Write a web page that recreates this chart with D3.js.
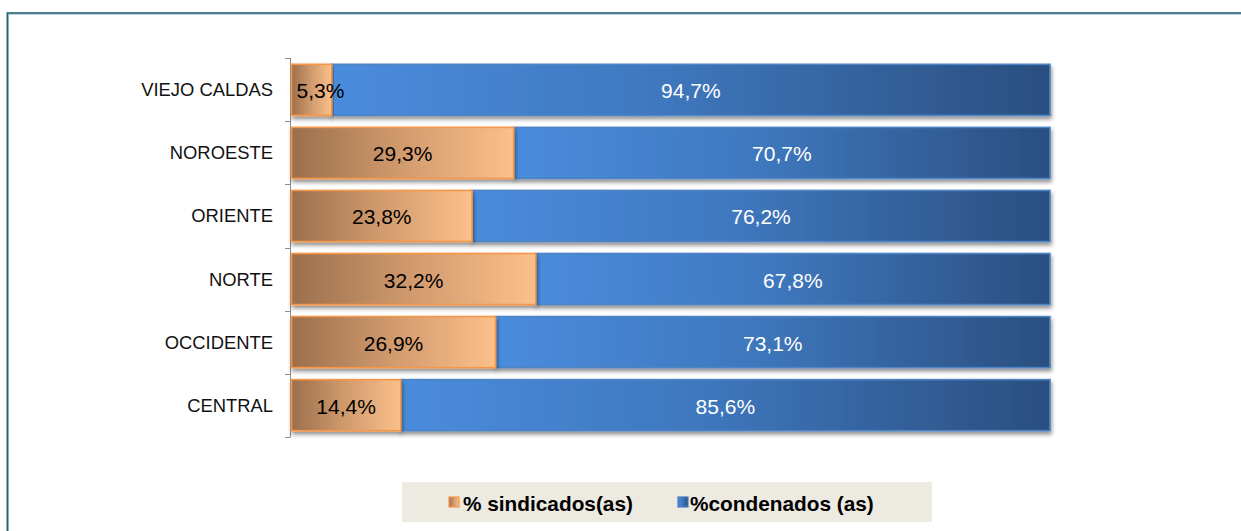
<!DOCTYPE html>
<html>
<head>
<meta charset="utf-8">
<script src="https://cdn.jsdelivr.net/npm/d3@7"></script>
<style>
  html, body { margin: 0; padding: 0; background: #fff; }
  svg { display: block; font-family: "Liberation Sans", Arial, sans-serif; }
</style>
</head>
<body>
<svg id="chart" width="1241" height="531"></svg>
<script>
// Regions, top to bottom
const categories = ["VIEJO CALDAS", "NOROESTE", "ORIENTE", "NORTE", "OCCIDENTE", "CENTRAL"];
// Share of processed people (%)
const sindicados = [5.3, 29.3, 23.8, 32.2, 26.9, 14.4];
const condenados = [94.7, 70.7, 76.2, 67.8, 73.1, 85.6];
const seriesNames = ["% sindicados(as)", "%condenados (as)"];

const svg = d3.select("#chart");
const W = 1241, H = 531;

const defs = svg.append("defs");
const gOr = defs.append("linearGradient").attr("id", "gradOrange").attr("x1", 0).attr("x2", 1).attr("y1", 0).attr("y2", 0);
gOr.append("stop").attr("offset", "0%").attr("stop-color", "#9b6f4c");
gOr.append("stop").attr("offset", "50%").attr("stop-color", "#d29b6e");
gOr.append("stop").attr("offset", "100%").attr("stop-color", "#fbc08b");
const gBl = defs.append("linearGradient").attr("id", "gradBlue").attr("x1", 0).attr("x2", 1).attr("y1", 0).attr("y2", 0);
gBl.append("stop").attr("offset", "0%").attr("stop-color", "#4a8cdc");
gBl.append("stop").attr("offset", "45%").attr("stop-color", "#3f78bf");
gBl.append("stop").attr("offset", "100%").attr("stop-color", "#2a4f7f");
const shadow = defs.append("filter").attr("id", "shadow").attr("x", "-5%").attr("y", "-20%").attr("width", "110%").attr("height", "160%");
shadow.append("feGaussianBlur").attr("in", "SourceAlpha").attr("stdDeviation", 2.2);
shadow.append("feOffset").attr("dx", 1).attr("dy", 3).attr("result", "b");
shadow.append("feComponentTransfer").append("feFuncA").attr("type", "linear").attr("slope", 0.45);
const merge = shadow.append("feMerge");
merge.append("feMergeNode");
merge.append("feMergeNode").attr("in", "SourceGraphic");

// Outer frame (top and left edges)
svg.append("path")
  .attr("d", `M7.5,${H} L7.5,13.5 L${W},13.5`)
  .attr("fill", "none").attr("stroke", "#b9d3de").attr("stroke-width", 3);
svg.append("path")
  .attr("d", `M7.5,${H} L7.5,13 L${W},13`)
  .attr("fill", "none").attr("stroke", "#2d6173").attr("stroke-width", 1.6);

const x = d3.scaleLinear().domain([0, 100]).range([291.5, 1050]);
const y = d3.scaleBand().domain(categories).range([58, 437]).paddingInner(0.19).paddingOuter(0.1);

// Category axis
const axis = svg.append("g").attr("transform", "translate(290,0)");
axis.append("line").attr("x1", 0.5).attr("x2", 0.5).attr("y1", 58).attr("y2", 437).attr("stroke", "#8c8c8c").attr("stroke-width", 1);
const bounds = d3.range(categories.length + 1).map(i => 58 + i * (437 - 58) / categories.length);
axis.selectAll("line.tick").data(bounds).join("line").attr("class", "tick")
  .attr("x1", -5).attr("x2", 0.5).attr("y1", d => Math.round(d) + 0.5).attr("y2", d => Math.round(d) + 0.5)
  .attr("stroke", "#8c8c8c");
svg.selectAll("text.cat").data(categories).join("text").attr("class", "cat")
  .attr("x", 273).attr("y", d => y(d) + y.bandwidth() / 2)
  .attr("text-anchor", "end").attr("dominant-baseline", "central")
  .attr("font-size", 18.4).attr("fill", "#111").text(d => d);

// Bars
const rows = categories.map((c, i) => ({ c, s: sindicados[i], k: condenados[i] }));
const g = svg.append("g");
rows.forEach(r => {
  const yy = y(r.c), h = y.bandwidth();
  g.append("rect").attr("x", x(r.s)).attr("y", yy).attr("width", x(r.s + r.k) - x(r.s)).attr("height", h)
    .attr("fill", "url(#gradBlue)").attr("stroke", "#4f84c4").attr("stroke-width", 1.6).attr("filter", "url(#shadow)");
  g.append("rect").attr("x", x(0)).attr("y", yy).attr("width", x(r.s) - x(0)).attr("height", h)
    .attr("fill", "url(#gradOrange)").attr("stroke", "#f79646").attr("stroke-width", 1.6).attr("filter", "url(#shadow)");
});

const fmt = v => v.toFixed(1).replace(".", ",") + "%";
rows.forEach(r => {
  const cy = y(r.c) + y.bandwidth() / 2 + 1;
  const small = r.s < 8;
  g.append("text").attr("x", small ? x(0) + 5 : (x(0) + x(r.s)) / 2).attr("y", cy)
    .attr("text-anchor", small ? "start" : "middle").attr("dominant-baseline", "central")
    .attr("font-size", 21).attr("fill", "#000").text(fmt(r.s));
  g.append("text").attr("x", (x(r.s) + x(r.s + r.k)) / 2).attr("y", cy)
    .attr("text-anchor", "middle").attr("dominant-baseline", "central")
    .attr("font-size", 21).attr("fill", "#fff").text(fmt(r.k));
});

// Legend
const leg = svg.append("g");
leg.append("rect").attr("x", 402).attr("y", 482).attr("width", 530).attr("height", 40).attr("fill", "#edeae1");
const legItems = [
  { name: seriesNames[0], fill: "url(#gradOrange)", stroke: "#f79646", sx: 449, tx: 463 },
  { name: seriesNames[1], fill: "url(#gradBlue)", stroke: "#4a7ebb", sx: 678, tx: 690 }
];
legItems.forEach(it => {
  leg.append("rect").attr("x", it.sx).attr("y", 497).attr("width", 10).attr("height", 10)
    .attr("fill", it.fill).attr("stroke", it.stroke).attr("stroke-width", 1.2);
  leg.append("text").attr("x", it.tx).attr("y", 503).attr("dominant-baseline", "central")
    .attr("font-size", 20.8).attr("font-weight", "bold").attr("fill", "#000").text(it.name);
});
</script>
</body>
</html>
